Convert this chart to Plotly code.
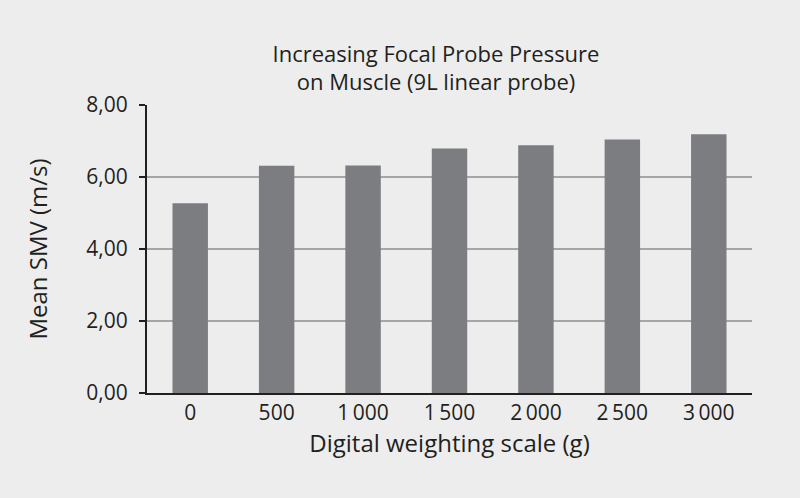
import plotly.graph_objects as go

categories = ["0", "500", "1\u2009000", "1\u2009500", "2\u2009000", "2\u2009500", "3\u2009000"]
values = [5.27, 6.31, 6.32, 6.79, 6.88, 7.04, 7.19]
y_ticks = [0, 2, 4, 6, 8]
y_tick_labels = ["0,00", "2,00", "4,00", "6,00", "8,00"]

FONT = "Open Sans"
TXT = "#231f20"

fig = go.Figure(go.Bar(
    x=categories, y=values,
    marker=dict(color="#7c7d80", line=dict(width=0)),
    width=0.41,
))

fig.update_layout(
    width=800, height=498,
    paper_bgcolor="#ededed", plot_bgcolor="#ededed",
    margin=dict(l=147, r=48, t=105, b=105),
    showlegend=False,
    font=dict(family=FONT, color=TXT, size=20),
    title=dict(
        text="Increasing Focal Probe Pressure<br>on Muscle (9L linear probe)",
        x=0.545, xanchor="center", y=0.876, yanchor="top",
        font=dict(family=FONT, size=22, color=TXT),
    ),
)

fig.update_xaxes(
    type="category",
    showline=True, linecolor=TXT, linewidth=2,
    ticks="", showgrid=False,
    tickfont=dict(size=21, color=TXT),
    title=dict(text="Digital weighting scale (g)", font=dict(size=24, color=TXT), standoff=6),
)
fig.update_yaxes(
    range=[0, 8], tickvals=y_ticks, ticktext=y_tick_labels,
    showline=True, linecolor=TXT, linewidth=2,
    ticks="outside", ticklen=6, tickwidth=2, tickcolor=TXT,
    showgrid=True, gridcolor="#a5a5a5", gridwidth=2,
    zeroline=False,
    ticklabelstandoff=7,
    tickfont=dict(size=21, color=TXT),
    title=dict(text="Mean SMV (m/s)", font=dict(size=24, color=TXT), standoff=32),
)

fig.write_html("out.html", config={"displayModeBar": False},
               post_script="document.body.style.margin='0';")
